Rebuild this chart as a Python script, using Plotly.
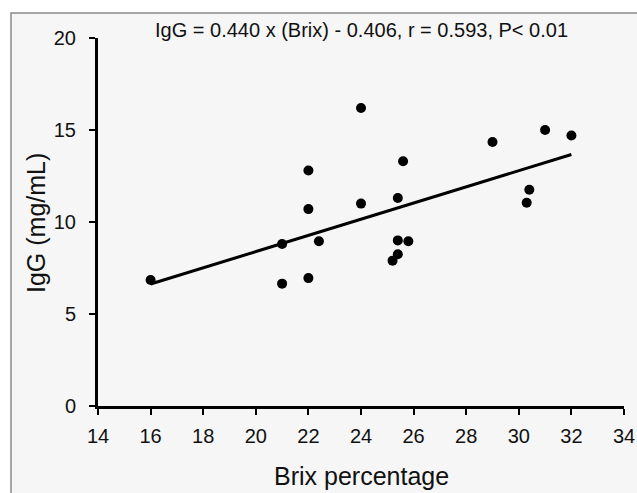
import plotly.graph_objects as go

# Data
brix = [16.0, 21.0, 21.0, 22.0, 22.0, 22.0, 22.4, 24.0, 24.0, 25.2, 25.4, 25.4, 25.4,
        25.6, 25.8, 29.0, 30.3, 30.4, 31.0, 32.0]
igg = [6.85, 8.8, 6.65, 12.8, 10.7, 6.95, 8.95, 16.2, 11.0, 7.9, 11.3, 9.0, 8.25,
       13.3, 8.95, 14.35, 11.05, 11.75, 15.0, 14.7]

fit_x = [16.0, 32.0]
fit_y = [6.63, 13.67]

equation_text = "IgG = 0.440 x (Brix) - 0.406, r = 0.593, P< 0.01"
x_title = "Brix percentage"
y_title = "IgG (mg/mL)"
x_ticks = [14, 16, 18, 20, 22, 24, 26, 28, 30, 32, 34]
y_ticks = [0, 5, 10, 15, 20]

FONT = "Liberation Sans, Arial, sans-serif"
TXT = "#111"

# Page body margin is removed (see post_script), figure fills the window.
W, H = 637, 493
# plot area in page pixels: x 98..624, y 38..406
L, R, T, B = 98, W - 624, 38, H - 406
pw, ph = W - L - R, H - T - B

def px2paper_x(px):
    return (px - L) / pw

def px2paper_y(py):
    return (H - B - py) / ph

fig = go.Figure()
fig.add_trace(go.Scatter(x=fit_x, y=fit_y, mode="lines",
                         line=dict(color="black", width=3), showlegend=False,
                         hoverinfo="skip"))
fig.add_trace(go.Scatter(x=brix, y=igg, mode="markers",
                         marker=dict(color="black", size=10), showlegend=False))

fig.add_shape(type="rect", xref="paper", yref="paper",
              x0=px2paper_x(11), x1=px2paper_x(660),
              y0=px2paper_y(520), y1=px2paper_y(13),
              line=dict(color="#8a8a8a", width=1.5), fillcolor="#f6f6f6",
              layer="below")

fig.add_annotation(text=equation_text, xref="paper", yref="paper",
                   x=0.5, y=px2paper_y(30), xanchor="center", yanchor="middle",
                   showarrow=False, font=dict(family=FONT, size=20, color=TXT))
fig.add_annotation(text=x_title, xref="paper", yref="paper",
                   x=0.5, y=px2paper_y(476), xanchor="center", yanchor="middle",
                   showarrow=False, font=dict(family=FONT, size=25, color=TXT))
fig.add_annotation(text=y_title, xref="paper", yref="paper", textangle=-90,
                   x=px2paper_x(36), y=px2paper_y(223), xanchor="center", yanchor="middle",
                   showarrow=False, font=dict(family=FONT, size=25, color=TXT))

fig.update_layout(
    width=W, height=H,
    margin=dict(l=L, r=R, t=T, b=B),
    paper_bgcolor="white", plot_bgcolor="rgba(0,0,0,0)",
    font=dict(family=FONT, color=TXT),
)
fig.update_xaxes(range=[14, 34], tickvals=x_ticks, ticks="outside", ticklen=6,
                 tickwidth=2, tickcolor="black", showline=True, linewidth=3,
                 linecolor="black", showgrid=False, zeroline=False, automargin=False,
                 ticklabelstandoff=4,
                 tickfont=dict(size=20, family=FONT, color=TXT))
fig.update_yaxes(range=[0, 20], tickvals=y_ticks, ticks="outside", ticklen=6,
                 tickwidth=2, tickcolor="black", showline=True, linewidth=3,
                 linecolor="black", showgrid=False, zeroline=False, automargin=False,
                 ticklabelstandoff=9,
                 tickfont=dict(size=20, family=FONT, color=TXT))

fig.write_html("out.html",
               config={"displayModeBar": False},
               post_script="document.body.style.margin='0';"
                           "document.body.style.overflow='hidden';")
